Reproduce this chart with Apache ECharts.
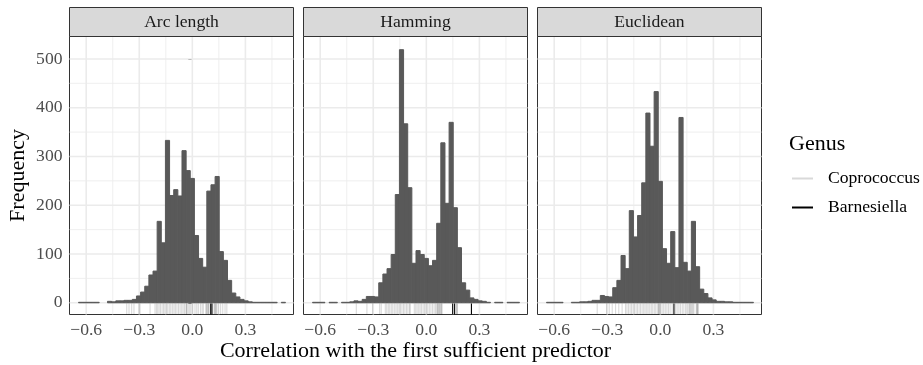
<!DOCTYPE html>
<html><head><meta charset="utf-8">
<script src="https://cdn.jsdelivr.net/npm/echarts@6/dist/echarts.min.js"></script>
<style>html,body{margin:0;padding:0;background:#fff}#c{width:923px;height:365px}</style>
</head><body><div id="c"></div>
<script>
// ---------------- data ----------------
const panelNames = ['Arc length', 'Hamming', 'Euclidean'];
// histogram: 50 bins, equal width; first bin left edge
const binWidth = 0.0234;
const binFirstLeft = -0.6435;
const countsArc = [1,1,1,1,1,0,0,3,2,4,4,5,5,7,14,22,34,57,65,167,123,333,220,232,219,312,271,
  255,138,91,73,229,242,259,105,87,46,20,12,7,4,2,1,1,1,1,1,1,0,1];
const countsHamming = [1,1,1,0,1,1,0,1,1,2,4,3,7,13,13,12,41,59,70,99,222,519,367,236,81,107,99,
  91,76,87,163,328,204,370,195,113,41,26,10,7,4,3,1,0,1,1,0,1,1,1];
const countsEuclid = [1,1,1,1,0,0,1,1,2,2,3,5,5,15,13,12,31,46,97,70,189,135,179,246,389,321,433,
  249,111,81,146,72,380,83,65,167,74,28,19,10,6,3,3,2,2,1,1,1,1,1];
// rug values (correlations of the genus' taxa)
const rugCoproArc = [-0.371,-0.358,-0.343,-0.330,-0.302,-0.296,-0.239,-0.211,-0.203,-0.196,-0.188,-0.180,
  -0.171,-0.163,-0.155,-0.146,-0.139,-0.130,-0.122,-0.113,-0.104,-0.096,-0.087,-0.078,-0.069,-0.060,
  -0.052,-0.044,-0.036,-0.032,-0.031,-0.023,-0.015,-0.008,0.002,0.015,0.025,0.034,0.046,0.055,0.062,
  0.076,0.080,0.084,0.088,0.092,0.094,0.123,0.127,0.130,0.134,0.138,0.147,0.160,0.172,0.185,0.195];
const rugBarnArc = [0.104, 0.111];
const rugCoproHamming = [-0.396,-0.336,-0.304,-0.264,-0.255,-0.232,-0.224,-0.215,-0.207,-0.198,-0.190,
  -0.181,-0.172,-0.164,-0.155,-0.147,-0.138,-0.129,-0.121,-0.112,-0.104,-0.095,-0.091,-0.068,-0.060,
  -0.052,-0.043,-0.035,-0.027,-0.018,-0.010,-0.001,0.008,0.017,0.026,0.035,0.044,0.052,0.060,0.062,
  0.066,0.070,0.074,0.078,0.082,0.086,0.089,0.170,0.173,0.176];
const rugBarnHamming = [0.149, 0.160, 0.255];
const rugCoproEuclid = [-0.357,-0.304,-0.289,-0.272,-0.253,-0.235,-0.216,-0.197,-0.189,-0.180,-0.171,
  -0.163,-0.154,-0.146,-0.137,-0.129,-0.120,-0.112,-0.103,-0.094,-0.086,-0.077,-0.069,-0.060,-0.051,
  -0.043,-0.034,-0.026,-0.017,-0.010,-0.008,-0.006,0.001,0.010,0.019,0.028,0.037,0.046,0.055,0.067,
  0.086,0.095,0.105,0.114,0.124,0.133,0.143,0.152,0.161,0.165,0.170,0.175,0.180,0.185,0.190,0.203,
  0.206,0.209,0.212,0.214];
const rugBarnEuclid = [0.077];
const xTicks = [-0.6, -0.3, 0.0, 0.3];
const xMinorTicks = [-0.45, -0.15, 0.15, 0.45];
const yTicks = [0, 100, 200, 300, 400, 500];
const yMinorTicks = [50, 150, 250, 350, 450];
const legendNames = ['Coprococcus', 'Barnesiella'];
const xTitle = 'Correlation with the first sufficient predictor';
const yTitle = 'Frequency';
const legendTitle = 'Genus';

// ---------------- layout / style ----------------
const FONT = '"Liberation Serif","DejaVu Serif",serif';
const LEFTS = [69.5, 303.5, 537.5], PW = 224, PT = 36.5, PH = 278, STRIP_TOP = 7.5;
const XMIN = -0.6945, XMAX = 0.572, YMIN = -24, YMAX = 546;
const COL_COPRO = 'rgba(0,0,0,0.15)', COL_BARN = '#000000';
const RUG_LEN = 11;

const counts = [countsArc, countsHamming, countsEuclid];
const rugCopro = [rugCoproArc, rugCoproHamming, rugCoproEuclid];
const rugBarn = [rugBarnArc, rugBarnHamming, rugBarnEuclid];

function fmtX(v) { return (v < 0 ? '\u2212' : '') + Math.abs(v).toFixed(1); }

const grids = [], xAxes = [], yAxes = [], series = [], graphics = [];

// horizontal grid lines: data [x, y] with y = grid value; vertical: [x, y] with x = grid value
function gridLineSeries(i, vals, horizontal, width) {
  return {
    type: 'custom', xAxisIndex: i, yAxisIndex: i, z: 1, silent: true,
    data: vals.map(v => horizontal ? [XMIN, v] : [v, YMIN]),
    renderItem: (params, api) => {
      const cs = params.coordSys;
      const p = api.coord([api.value(0), api.value(1)]);
      if (horizontal) {
        return {type: 'line', shape: {x1: cs.x, y1: p[1], x2: cs.x + cs.width, y2: p[1]},
          style: {stroke: '#ebebeb', lineWidth: width}};
      }
      return {type: 'line', shape: {x1: p[0], y1: cs.y, x2: p[0], y2: cs.y + cs.height},
        style: {stroke: '#ebebeb', lineWidth: width}};
    }
  };
}

function rugSeries(i, vals, name, color) {
  return {
    type: 'custom', name: name, xAxisIndex: i, yAxisIndex: i, z: 4, silent: true,
    itemStyle: {color: color},
    data: vals.map(v => [v, YMIN]),
    renderItem: (params, api) => {
      const cs = params.coordSys;
      const x = api.coord([api.value(0), api.value(1)])[0];
      const yb = cs.y + cs.height;
      return {type: 'line', shape: {x1: x, y1: yb, x2: x, y2: yb - RUG_LEN},
        style: {stroke: color, lineWidth: 1.1}};
    }
  };
}

for (let i = 0; i < 3; i++) {
  grids.push({left: LEFTS[i], top: PT, width: PW, height: PH, show: true, z: 0,
    outerBoundsMode: 'none', containLabel: false,
    backgroundColor: 'transparent', borderColor: '#333333', borderWidth: 1});
  const xa = {
    type: 'value', gridIndex: i, min: XMIN, max: XMAX,
    axisLine: {show: false},
    axisTick: {show: true, customValues: xTicks, length: 4, lineStyle: {color: '#333333', width: 1}},
    axisLabel: {show: true, customValues: xTicks, formatter: fmtX, margin: 7,
      fontFamily: FONT, fontSize: 17.6, color: '#4d4d4d'},
    splitLine: {show: false}
  };
  if (i === 1) {
    Object.assign(xa, {name: xTitle, nameLocation: 'middle', nameGap: 26, nameMoveOverlap: false,
      nameTextStyle: {fontFamily: FONT, fontSize: 22, color: '#000000'}});
  }
  xAxes.push(xa);
  const ya = {
    type: 'value', gridIndex: i, min: YMIN, max: YMAX,
    axisLine: {show: false},
    axisTick: {show: i === 0, customValues: yTicks, length: 4, lineStyle: {color: '#333333', width: 1}},
    axisLabel: {show: i === 0, customValues: yTicks, margin: 7,
      fontFamily: FONT, fontSize: 17.6, color: '#4d4d4d'},
    splitLine: {show: false}
  };
  if (i === 0) {
    Object.assign(ya, {name: yTitle, nameLocation: 'middle', nameGap: 40,
      nameTextStyle: {fontFamily: FONT, fontSize: 22, color: '#000000'}});
  }
  yAxes.push(ya);
  series.push(gridLineSeries(i, yMinorTicks, true, 0.8));
  series.push(gridLineSeries(i, xMinorTicks, false, 0.8));
  series.push(gridLineSeries(i, yTicks, true, 1.6));
  series.push(gridLineSeries(i, xTicks, false, 1.6));
  series.push({
    type: 'custom', name: 'hist' + i, xAxisIndex: i, yAxisIndex: i, z: 2, silent: true,
    encode: {x: [0, 1], y: 2},
    data: counts[i].map((c, k) => [binFirstLeft + k * binWidth, binFirstLeft + (k + 1) * binWidth, c]),
    renderItem: (params, api) => {
      const c = api.value(2);
      if (!c) return null;
      const p0 = api.coord([api.value(0), c]);
      const p1 = api.coord([api.value(1), 0]);
      return {type: 'rect', shape: {x: p0[0], y: p0[1], width: p1[0] - p0[0], height: p1[1] - p0[1]},
        style: {fill: '#595959', stroke: '#595959', lineWidth: 1}};
    }
  });
  series.push(rugSeries(i, rugCopro[i], legendNames[0], COL_COPRO));
  series.push(rugSeries(i, rugBarn[i], legendNames[1], COL_BARN));
  // strip
  graphics.push({type: 'rect', shape: {x: LEFTS[i], y: STRIP_TOP, width: PW, height: PT - STRIP_TOP},
    style: {fill: '#d9d9d9', stroke: '#333333', lineWidth: 1}, z: 10, silent: true});
  graphics.push({type: 'text', x: LEFTS[i] + PW / 2, y: (STRIP_TOP + PT) / 2 + 0.5, z: 11, silent: true,
    style: {text: panelNames[i], font: '17.6px ' + FONT, fill: '#1a1a1a',
      textAlign: 'center', textVerticalAlign: 'middle', align: 'center', verticalAlign: 'middle'}});
}

const chart = echarts.init(document.getElementById('c'), null, {renderer: 'canvas'});
chart.setOption({
  animation: false,
  backgroundColor: '#ffffff',
  title: {text: legendTitle, left: 789, top: 133, padding: 0,
    textStyle: {fontFamily: FONT, fontSize: 22, fontWeight: 'normal', color: '#000000'}},
  legend: {
    orient: 'vertical', left: 792, top: 164, padding: 0, itemGap: 0,
    itemWidth: 21, itemHeight: 2, icon: 'rect', selectedMode: false,
    textStyle: {fontFamily: FONT, fontSize: 17.6, color: '#000000', lineHeight: 29, padding: [0, 0, 0, 10]},
    data: [
      {name: legendNames[0], itemStyle: {color: '#d9d9d9'}},
      {name: legendNames[1], itemStyle: {color: '#000000'}}
    ]
  },
  grid: grids, xAxis: xAxes, yAxis: yAxes, series: series,
  graphic: graphics
});
</script></body></html>
